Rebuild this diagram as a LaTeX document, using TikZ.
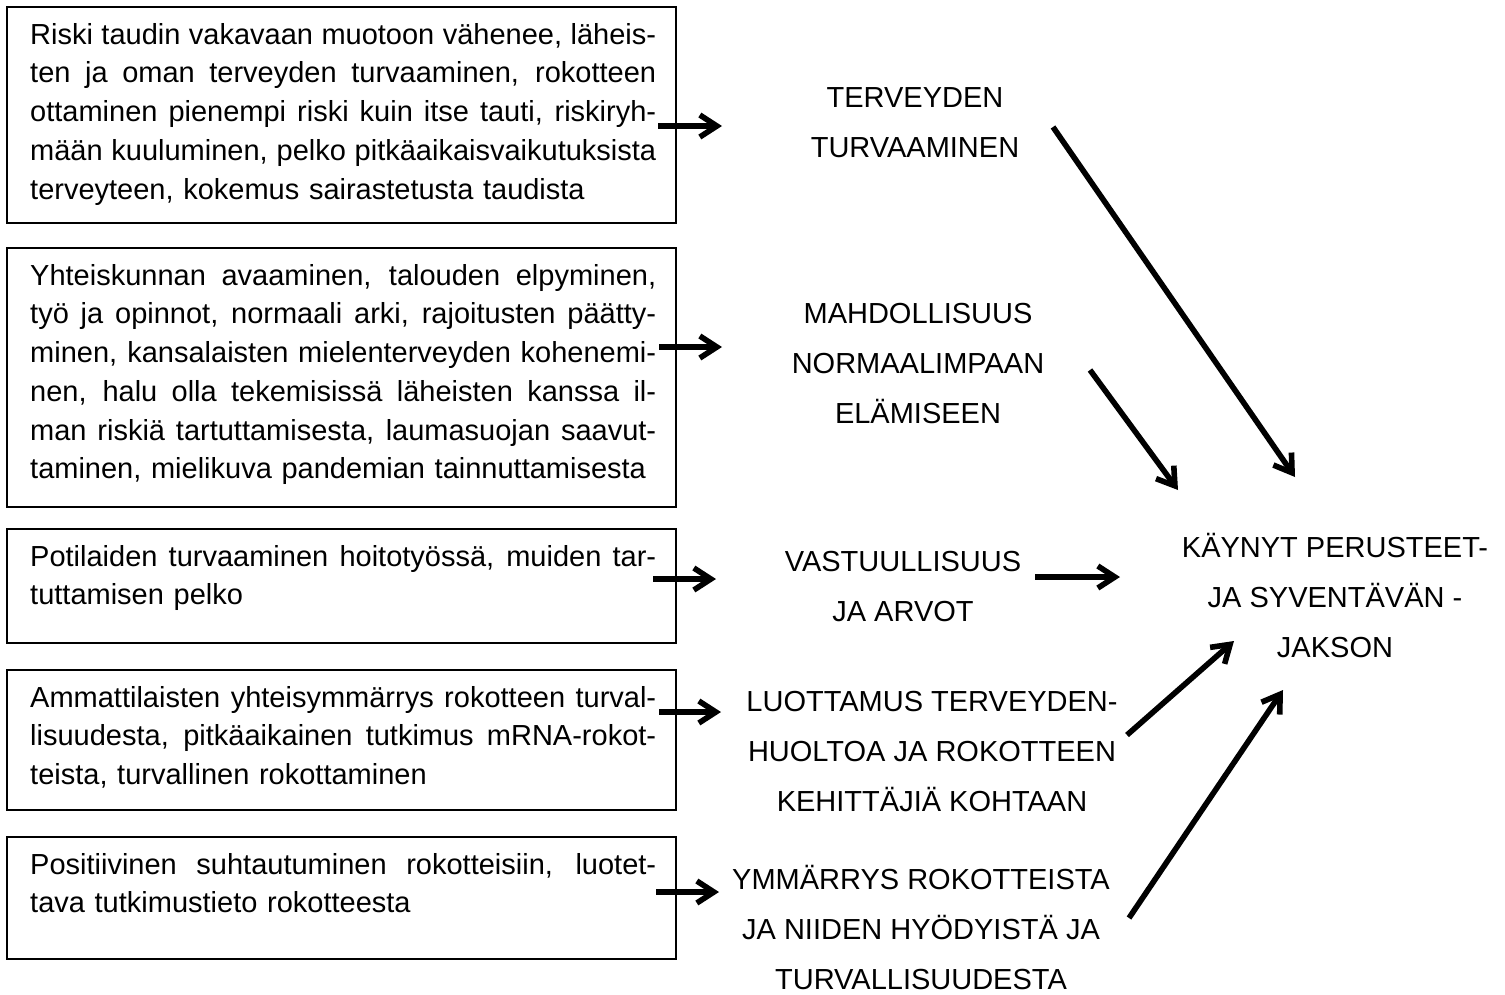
\documentclass[tikz,border=0pt]{standalone}
\usepackage{fontspec}
\setmainfont{Liberation Sans}
\usetikzlibrary{arrows.meta}
% a justified line of box text: the word spaces share the spare width
\newcommand\fl[1]{\leavevmode{\spaceskip=0.278em plus 1fil minus 0.08em\relax\hbox to 626pt{#1}}}
\newcommand\topstrut{\rule{0pt}{30pt}}
\begin{document}
\begin{tikzpicture}[x=1pt,y=-1pt,
  box/.style={draw=black, line width=1.7pt, anchor=north west, inner sep=0pt, minimum width=669pt},
  txt/.style={anchor=north west, inner sep=0pt, text width=626pt, align=left,
    font=\fontsize{29}{38.7}\selectfont},
  lbl/.style={anchor=north, inner sep=0pt, align=center, font=\fontsize{29}{50}\selectfont},
  arr/.style={line width=5.6pt, -{Straight Barb[length=17pt,width=22pt]}}
]
\useasboundingbox (0,0) rectangle (1505,994);

% reason boxes
\node[box, minimum height=216pt] (b1) at (6,6) {};
\node[box, minimum height=259pt] (b2) at (6,247) {};
\node[box, minimum height=114pt] (b3) at (6,528) {};
\node[box, minimum height=140pt] (b4) at (6,669) {};
\node[box, minimum height=122pt] (b5) at (6,836) {};

\node[txt] (t1) at (30,14) {\noindent
\fl{\topstrut Riski taudin vakavaan muotoon vähenee, läheis-}\\
\fl{ten ja oman terveyden turvaaminen, rokotteen}\\
\fl{ottaminen pienempi riski kuin itse tauti, riskiryh-}\\
\fl{mään kuuluminen, pelko pitkäaikaisvaikutuksista}\\
terveyteen, kokemus sairastetusta taudista};

\node[txt] (t2) at (30,255) {\noindent
\fl{\topstrut Yhteiskunnan avaaminen, talouden elpyminen,}\\
\fl{työ ja opinnot, normaali arki, rajoitusten päätty-}\\
\fl{minen, kansalaisten mielenterveyden kohenemi-}\\
\fl{nen, halu olla tekemisissä läheisten kanssa il-}\\
\fl{man riskiä tartuttamisesta, laumasuojan saavut-}\\
taminen, mielikuva pandemian tainnuttamisesta};

\node[txt] (t3) at (30,536) {\noindent
\fl{\topstrut Potilaiden turvaaminen hoitotyössä, muiden tar-}\\
tuttamisen pelko};

\node[txt] (t4) at (30,677) {\noindent
\fl{\topstrut Ammattilaisten yhteisymmärrys rokotteen turval-}\\
\fl{lisuudesta, pitkäaikainen tutkimus mRNA-rokot-}\\
teista, turvallinen rokottaminen};

\node[txt] (t5) at (30,844) {\noindent
\fl{\topstrut Positiivinen suhtautuminen rokotteisiin, luotet-}\\
tava tutkimustieto rokotteesta};

% motive labels
\node[lbl] (l1) at (915,77) {\topstrut TERVEYDEN\\TURVAAMINEN};
\node[lbl] (l2) at (918,293) {\topstrut MAHDOLLISUUS\\NORMAALIMPAAN\\ELÄMISEEN};
\node[lbl] (l3) at (903,541) {\topstrut VASTUULLISUUS\\JA ARVOT};
\node[lbl] (l4) at (932,681) {\topstrut LUOTTAMUS TERVEYDEN-\\HUOLTOA JA ROKOTTEEN\\KEHITTÄJIÄ KOHTAAN};
\node[lbl] (l5) at (921,859) {\topstrut YMMÄRRYS ROKOTTEISTA\\JA NIIDEN HYÖDYISTÄ JA\\TURVALLISUUDESTA};

% outcome
\node[lbl] (goal) at (1335,527) {\topstrut KÄYNYT PERUSTEET-\\JA SYVENTÄVÄN -\\JAKSON};

% arrow end points
\coordinate (m1s) at (658,126); \coordinate (m1e) at (722,126);
\coordinate (m2s) at (659,347); \coordinate (m2e) at (722,347);
\coordinate (m3s) at (653,579); \coordinate (m3e) at (716,579);
\coordinate (m4s) at (659,712); \coordinate (m4e) at (721,712);
\coordinate (m5s) at (656,892); \coordinate (m5e) at (719,892);

\coordinate (d1s) at (1053,127); \coordinate (d1e) at (1295,477);
\coordinate (d2s) at (1090,370); \coordinate (d2e) at (1178,490);
\coordinate (d3s) at (1035,577); \coordinate (d3e) at (1120,577);
\coordinate (d4s) at (1127,735); \coordinate (d4e) at (1234,641);
\coordinate (d5s) at (1129,918); \coordinate (d5e) at (1283,690);

% boxes to labels
\draw[arr] (m1s) -- (m1e);
\draw[arr] (m2s) -- (m2e);
\draw[arr] (m3s) -- (m3e);
\draw[arr] (m4s) -- (m4e);
\draw[arr] (m5s) -- (m5e);

% labels to outcome
\draw[arr] (d1s) -- (d1e);
\draw[arr] (d2s) -- (d2e);
\draw[arr] (d3s) -- (d3e);
\draw[arr] (d4s) -- (d4e);
\draw[arr] (d5s) -- (d5e);
\end{tikzpicture}
\end{document}
